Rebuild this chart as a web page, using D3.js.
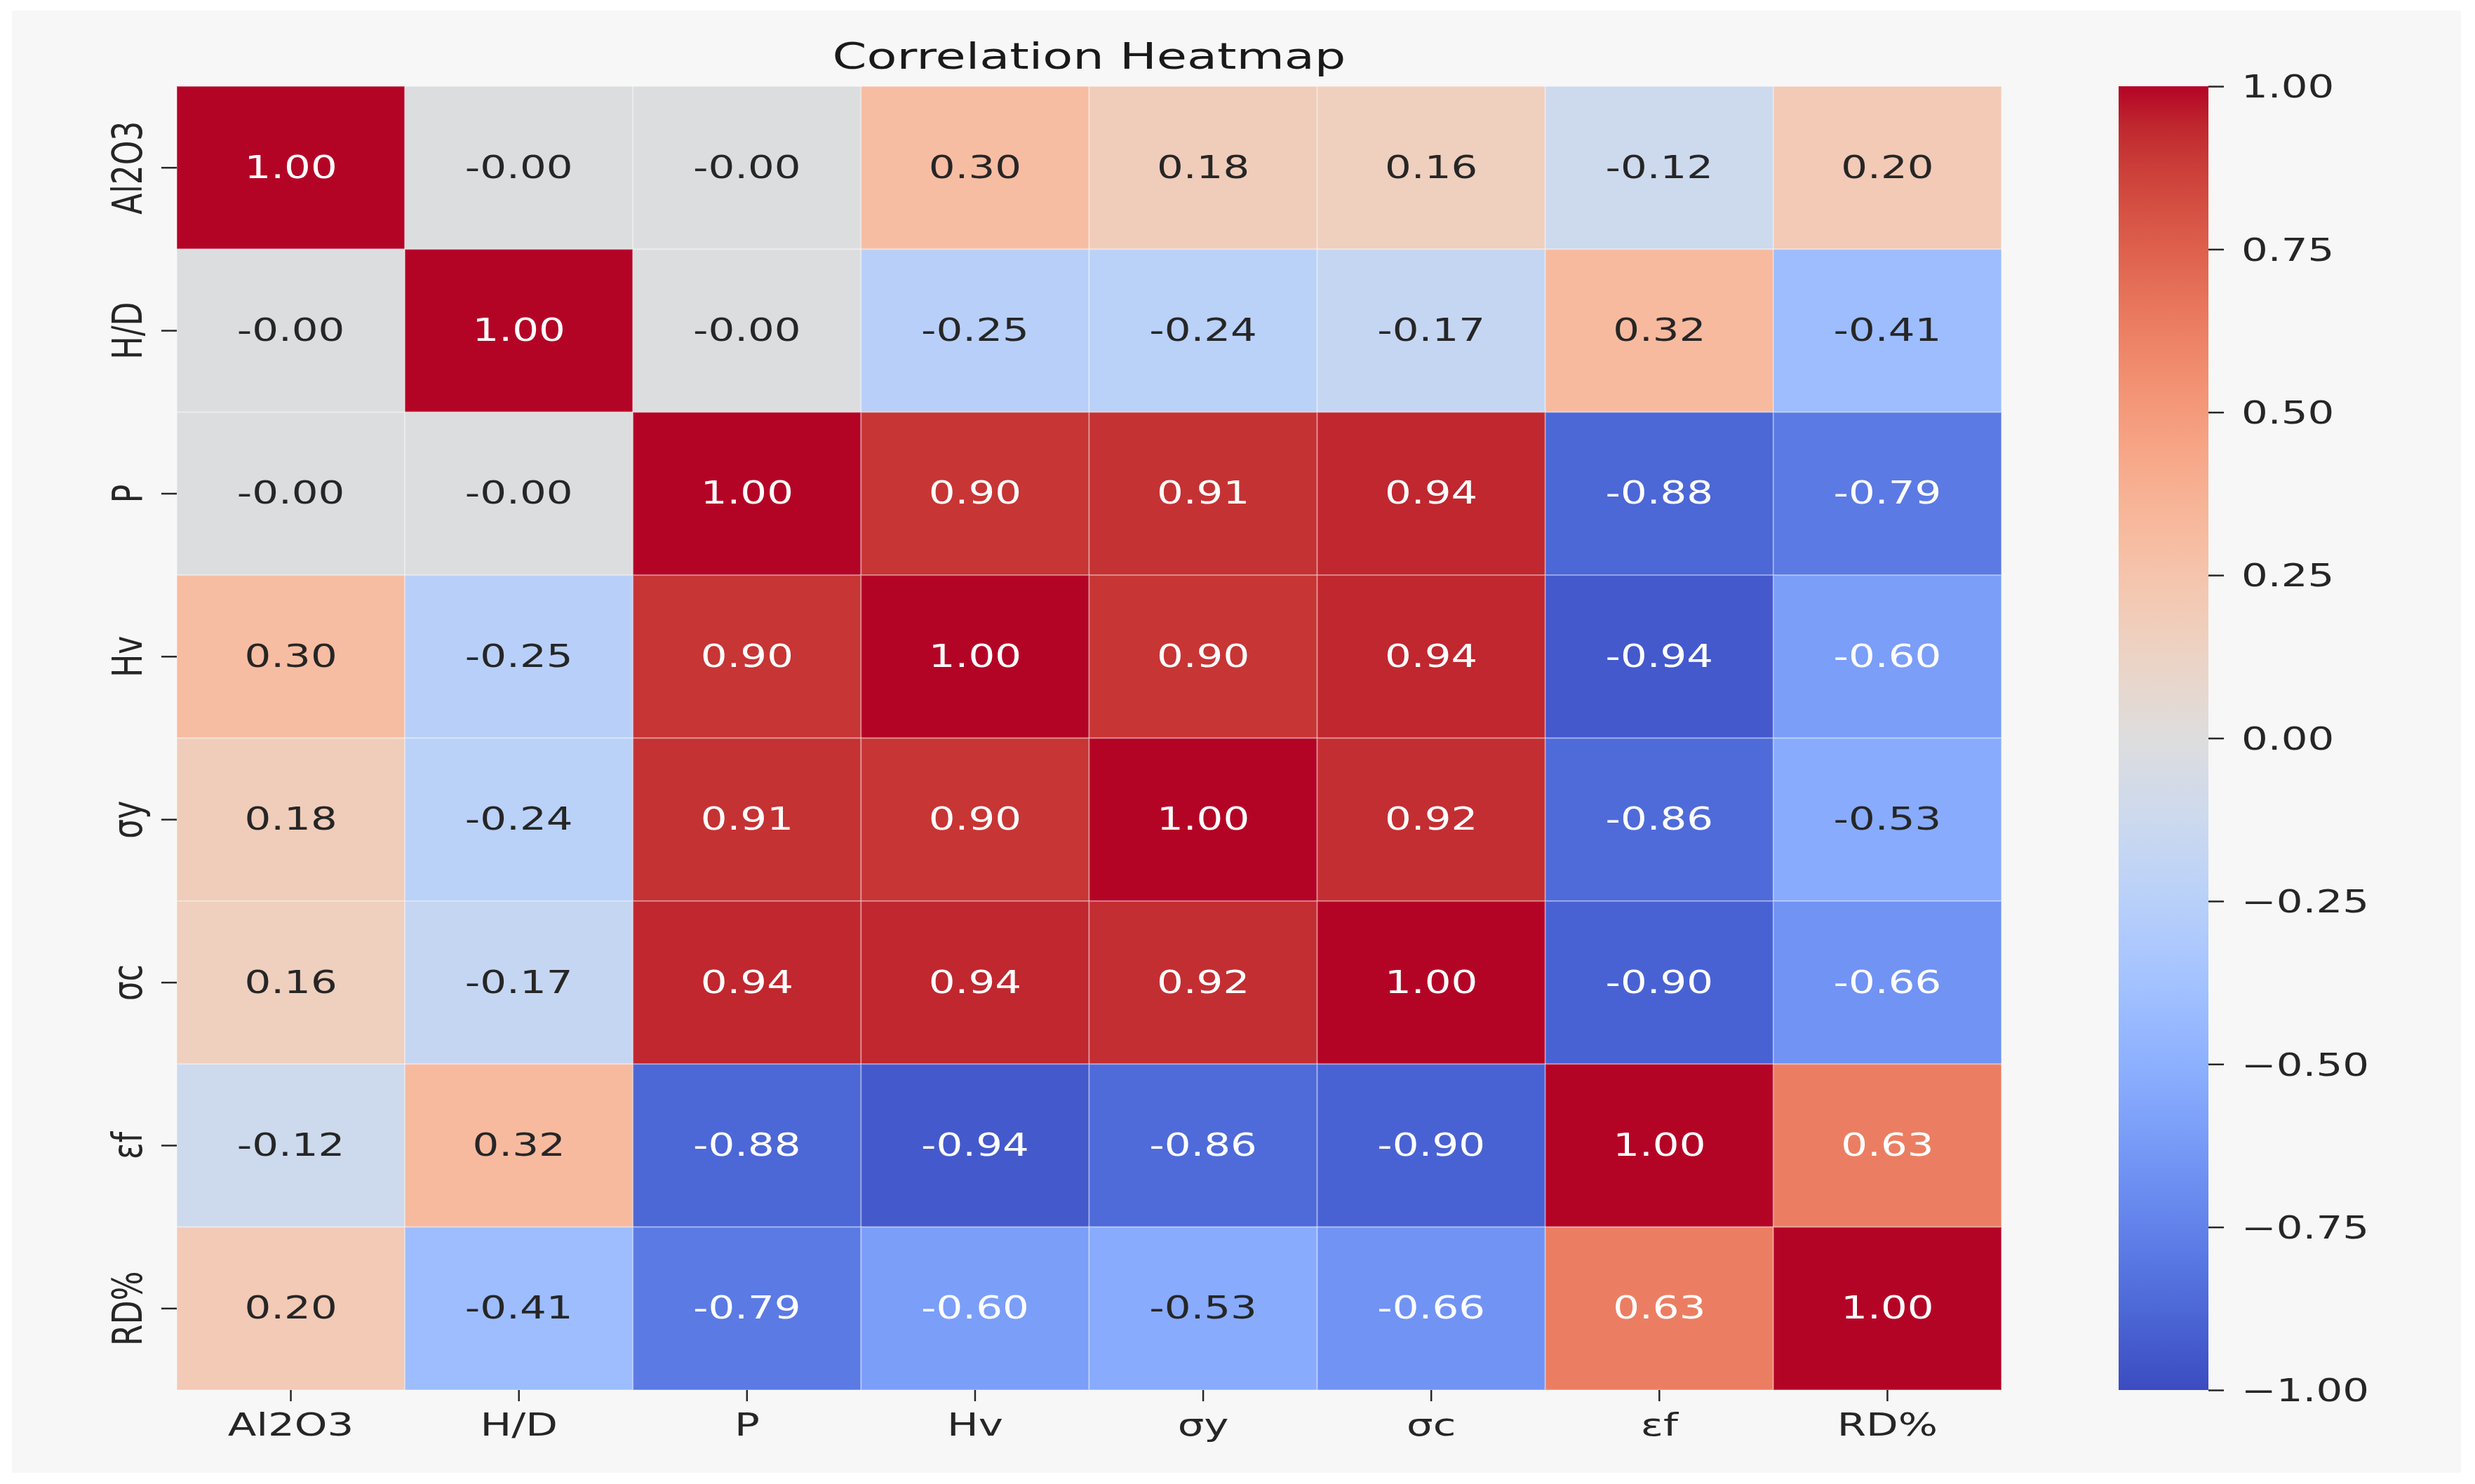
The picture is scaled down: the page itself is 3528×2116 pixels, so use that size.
<!DOCTYPE html>
<html>
<head>
<meta charset="utf-8">
<script src="https://cdn.jsdelivr.net/npm/d3@7"></script>
<style>
  html, body { margin: 0; padding: 0; background: #ffffff; }
  svg { display: block; }
  text { font-family: "DejaVu Sans", sans-serif; }
</style>
</head>
<body>
<script>
// ---------------- DATA ----------------
const variables = ["Al2O3", "H/D", "P", "Hv", "σy", "σc", "εf", "RD%"];
// correlation rows (-0.004 shown as "-0.00")
const rowAl2O3 = [1.00, -0.004, -0.004, 0.30, 0.18, 0.16, -0.12, 0.20];
const rowHD    = [-0.004, 1.00, -0.004, -0.25, -0.24, -0.17, 0.32, -0.41];
const rowP     = [-0.004, -0.004, 1.00, 0.90, 0.91, 0.94, -0.88, -0.79];
const rowHv    = [0.30, -0.25, 0.90, 1.00, 0.90, 0.94, -0.94, -0.60];
const rowSy    = [0.18, -0.24, 0.91, 0.90, 1.00, 0.92, -0.86, -0.53];
const rowSc    = [0.16, -0.17, 0.94, 0.94, 0.92, 1.00, -0.90, -0.66];
const rowEf    = [-0.12, 0.32, -0.88, -0.94, -0.86, -0.90, 1.00, 0.63];
const rowRD    = [0.20, -0.41, -0.79, -0.60, -0.53, -0.66, 0.63, 1.00];
const matrix = [rowAl2O3, rowHD, rowP, rowHv, rowSy, rowSc, rowEf, rowRD];
const colorbarTicks = [1.00, 0.75, 0.50, 0.25, 0.00, -0.25, -0.50, -0.75, -1.00];
const titleText = "Correlation Heatmap";

// matplotlib "coolwarm" colormap control colours (33 stops from 0 to 1)
const coolwarmStops = [
  [59,76,192],[68,90,204],[77,104,215],[87,117,225],[98,130,234],[108,142,241],
  [119,154,247],[130,165,251],[141,176,254],[152,185,255],[163,194,255],[174,201,253],
  [184,208,249],[194,213,244],[204,217,238],[213,219,230],[221,221,221],[229,216,209],
  [236,211,197],[241,204,184],[245,196,172],[247,187,160],[247,177,148],[247,166,135],
  [244,154,123],[241,141,111],[236,127,99],[229,112,88],[222,96,77],[213,80,66],
  [203,62,56],[192,40,47],[180,4,38]
];

// ---------------- LAYOUT ----------------
const W = 3528, H = 2116;
const SX = 1.35;          // horizontal text stretch seen in the reference
const FS = 44;            // tick / annotation font size
const heat = { x0: 252, x1: 2853, y0: 123, y1: 1982 };
const cbar = { x0: 3020, x1: 3148 };

const svg = d3.select("body").append("svg")
  .attr("width", W).attr("height", H);

svg.append("rect").attr("x", 17).attr("y", 15)
  .attr("width", 3508 - 17).attr("height", 2100 - 15)
  .attr("fill", "#f7f7f7");

// colour scale
const stopDomain = coolwarmStops.map((_, i) => -1 + 2 * i / (coolwarmStops.length - 1));
const color = d3.scaleLinear()
  .domain(stopDomain)
  .range(coolwarmStops.map(c => d3.rgb(c[0], c[1], c[2])))
  .interpolate(d3.interpolateRgb)
  .clamp(true);

const x = d3.scaleBand().domain(variables).range([heat.x0, heat.x1]);
const y = d3.scaleBand().domain(variables).range([heat.y0, heat.y1]);

const cells = [];
matrix.forEach((row, i) => row.forEach((v, j) => cells.push({ r: variables[i], c: variables[j], v })));

function luminance(col) {
  const c = d3.rgb(col);
  const f = u => { u /= 255; return u <= 0.03928 ? u / 12.92 : Math.pow((u + 0.055) / 1.055, 2.4); };
  return 0.2126 * f(c.r) + 0.7152 * f(c.g) + 0.0722 * f(c.b);
}

const g = svg.append("g");
g.selectAll("rect.cell").data(cells).enter().append("rect")
  .attr("class", "cell")
  .attr("x", d => x(d.c)).attr("y", d => y(d.r))
  .attr("width", x.bandwidth()).attr("height", y.bandwidth())
  .attr("fill", d => color(d.v))
  .attr("stroke", "#ffffff").attr("stroke-opacity", 0.3).attr("stroke-width", 2);

g.selectAll("text.ann").data(cells).enter().append("text")
  .attr("class", "ann")
  .attr("text-anchor", "middle")
  .attr("font-size", FS)
  .attr("fill", d => luminance(color(d.v)) > 0.408 ? "#262626" : "#ffffff")
  .attr("transform", d => `translate(${x(d.c) + x.bandwidth() / 2},${y(d.r) + y.bandwidth() / 2 + 0.33 * FS}) scale(${SX},1)`)
  .text(d => d.v.toFixed(2));

// ---------------- AXES ----------------
const axisColor = "#262626";

const xAxis = svg.append("g")
  .attr("transform", `translate(0,${heat.y1})`)
  .call(d3.axisBottom(x).tickSize(16).tickSizeOuter(0));
xAxis.select(".domain").remove();
xAxis.selectAll(".tick line").attr("stroke", axisColor).attr("stroke-width", 2.5);
xAxis.selectAll(".tick text")
  .attr("x", 0).attr("y", 0).attr("dy", null)
  .attr("font-size", FS).attr("fill", axisColor)
  .attr("font-family", "DejaVu Sans, sans-serif")
  .attr("text-anchor", "middle")
  .attr("transform", `translate(0,65) scale(${SX},1)`);

const yAxis = svg.append("g")
  .attr("transform", `translate(${heat.x0},0)`)
  .call(d3.axisLeft(y).tickSize(22).tickSizeOuter(0));
yAxis.select(".domain").remove();
yAxis.selectAll(".tick line").attr("stroke", axisColor).attr("stroke-width", 2.5);
yAxis.selectAll(".tick text")
  .attr("x", 0).attr("y", 0).attr("dy", null)
  .attr("font-size", FS).attr("fill", axisColor)
  .attr("font-family", "DejaVu Sans, sans-serif")
  .attr("text-anchor", "middle")
  .attr("transform", `translate(-50,0) scale(${SX},1) rotate(-90)`);

// ---------------- COLORBAR ----------------
const cScale = d3.scaleLinear().domain([-1, 1]).range([heat.y1, heat.y0]);
const defs = svg.append("defs");
const grad = defs.append("linearGradient").attr("id", "cbgrad")
  .attr("x1", "0").attr("y1", "1").attr("x2", "0").attr("y2", "0");
grad.selectAll("stop").data(stopDomain).enter().append("stop")
  .attr("offset", d => (d + 1) / 2)
  .attr("stop-color", d => color(d));

svg.append("rect")
  .attr("x", cbar.x0).attr("y", cScale(1))
  .attr("width", cbar.x1 - cbar.x0).attr("height", cScale(-1) - cScale(1))
  .attr("fill", "url(#cbgrad)");

const cAxis = svg.append("g")
  .attr("transform", `translate(${cbar.x1},0)`)
  .call(d3.axisRight(cScale).tickValues(colorbarTicks).tickSize(22).tickFormat(d3.format(".2f")));
cAxis.select(".domain").remove();
cAxis.selectAll(".tick line").attr("stroke", axisColor).attr("stroke-width", 2.5);
cAxis.selectAll(".tick text")
  .attr("x", 0).attr("y", 0).attr("dy", "0.36em")
  .attr("font-size", FS).attr("fill", axisColor)
  .attr("font-family", "DejaVu Sans, sans-serif")
  .attr("text-anchor", "start")
  .attr("transform", `translate(47,0) scale(${SX},1)`);

// ---------------- TITLE ----------------
svg.append("text")
  .attr("text-anchor", "middle")
  .attr("font-size", 52)
  .attr("fill", "#1a1a1a")
  .attr("transform", `translate(${(heat.x0 + heat.x1) / 2},98) scale(${SX},1)`)
  .text(titleText);
</script>
</body>
</html>
